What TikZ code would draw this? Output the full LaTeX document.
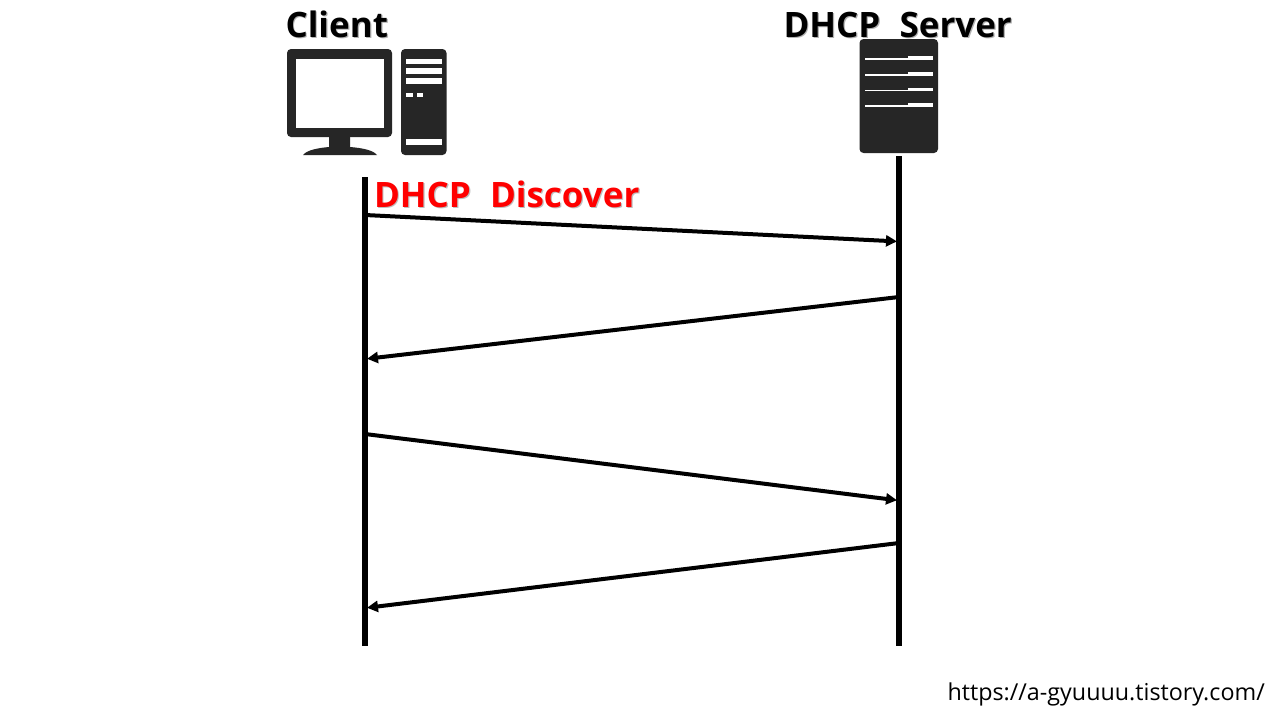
\documentclass[tikz,border=0pt]{standalone}
\usepackage{fontspec}
\setmainfont{Open Sans}
\usetikzlibrary{arrows.meta,positioning}
\definecolor{icondark}{HTML}{262626}
\newcommand{\softshadow}[2]{\rlap{\kern1.2pt\raisebox{-1.2pt}{\color{#1}#2}}#2}
\tikzstyle{title}=[
  anchor=base west,
  font={\fontsize{35}{35}\selectfont\bfseries},
  inner sep=0pt,
  outer sep=0pt,
]
\tikzstyle{lifeline}=[
  draw=black,
  line width=5.5pt,
]
\tikzstyle{message}=[
  ->,
  draw=black,
  line width=4pt,
]
\tikzstyle{icon}=[
  fill=icondark,
  rounded corners=4pt,
]
\tikzset{
  >={Stealth[length=11pt,width=11pt,inset=0pt]},
  shorten >=2pt,
}
\begin{document}
\begin{tikzpicture}[x=1pt,y=-1pt]
      \path [fill=white, use as bounding box] (0,0) rectangle (1280,720);
      %%
      \node (client) [title] at (285.5,37) {\softshadow{black!30}{Client}};
      \node (server) [title] at (783.5,37) {\softshadow{black!30}{DHCP\hspace{10pt} Server}};
      \node (discover) [title, red] at (374,207) {\softshadow{black!25}{DHCP\hspace{10pt} Discover}};
      \node (url) [anchor=base east, inner sep=0pt, font={\fontsize{23.3}{23.3}\selectfont}] at (1265,700) {https://a-gyuuuu.tistory.com/};
      %%
      \fill [icon] (287,49) rectangle (392,137);
      \fill [white] (296,59) rectangle (384,128);
      \fill [icondark] (329,136) -- (350,136) -- (350,147)
      .. controls (362,148) and (373,150) .. (377,155)
      -- (303,155) .. controls (307,150) and (318,148) .. (329,147) -- cycle;
      \fill [icon] (401,49) rectangle (446.5,155);
      \foreach \y/\h in {59/5,68/5.5,78/5.5,139/6}
        \fill [white] (406,\y) rectangle ++(36,\h);
      \fill [white] (406,93) rectangle ++(7,4);
      \fill [white] (416.5,93) rectangle ++(6,4);
      %%
      \fill [icon] (859.5,39) rectangle (938,153);
      \foreach \y in {56,72,87.5,103} {
        \fill [white] (865,\y+2.3) rectangle (908,\y+3.5);
        \fill [white] (908,\y) rectangle (933,\y+3.5);
      }
      %%
      \coordinate (clienttop) at (365,177);
      \coordinate (clientend) at (365,646);
      \coordinate (servertop) at (899,156);
      \coordinate (serverend) at (899,646);
      \coordinate (A) at (365,215);
      \coordinate (B) at (899,241.5);
      \coordinate (C) at (899,297);
      \coordinate (D) at (365,359);
      \coordinate (E) at (365,434);
      \coordinate (F) at (899,500.5);
      \coordinate (G) at (899,543);
      \coordinate (H) at (365,608);
      %%
      \draw [message] (A) -- (B);
      \draw [message] (C) -- (D);
      \draw [message] (E) -- (F);
      \draw [message] (G) -- (H);
      \draw [lifeline, shorten >=0pt] (clienttop) -- (clientend);
      \draw [lifeline, shorten >=0pt] (servertop) -- (serverend);
    \end{tikzpicture}
\end{document}
